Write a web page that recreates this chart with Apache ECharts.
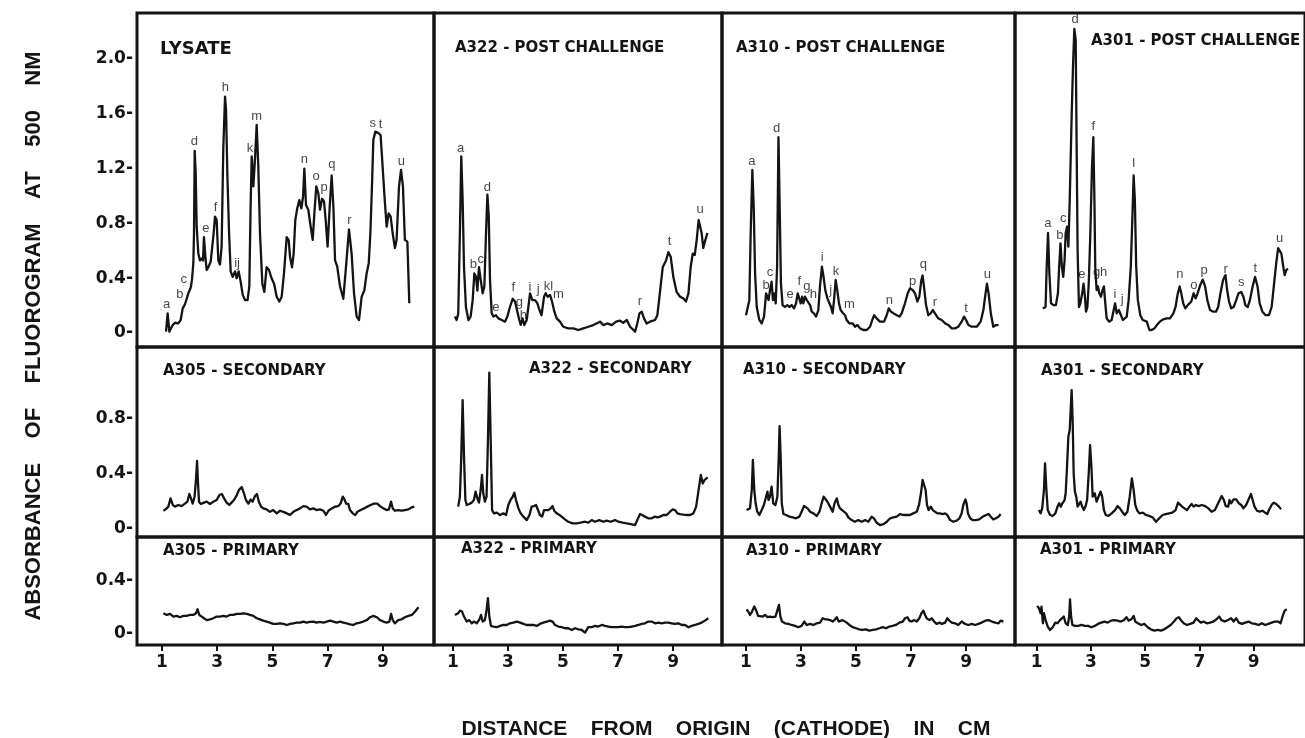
<!DOCTYPE html>
<html><head><meta charset="utf-8">
<script src="https://cdn.jsdelivr.net/npm/echarts@6/dist/echarts.min.js"></script>
<style>html,body{margin:0;padding:0;background:#fff}#c{width:1305px;height:738px}</style>
</head><body><div id="c"></div>
<script>
// ---------- tick labels ----------
const xTicks = [1, 3, 5, 7, 9];
const yTicksTop = [0, 0.4, 0.8, 1.2, 1.6, 2.0];
const yTicksMid = [0, 0.4, 0.8];
const yTicksBot = [0, 0.4];

// ---------- panel titles ----------
const panelTitles = [
  'LYSATE', 'A322 - POST CHALLENGE', 'A310 - POST CHALLENGE', 'A301 - POST CHALLENGE',
  'A305 - SECONDARY', 'A322 - SECONDARY', 'A310 - SECONDARY', 'A301 - SECONDARY',
  'A305 - PRIMARY', 'A322 - PRIMARY', 'A310 - PRIMARY', 'A301 - PRIMARY'
];
const yTitle = 'ABSORBANCE    OF    FLUOROGRAM    AT    500    NM';
const xTitle = 'DISTANCE    FROM    ORIGIN    (CATHODE)    IN    CM';

// ---------- traces [distance cm, absorbance] ----------
const lysate = [[1.145,0.01],[1.205,0.144],[1.266,0.01],[1.326,0.0],[1.386,0.058],[1.471,0.075],[1.592,0.07],[1.676,0.095],[1.749,0.18],[1.833,0.21],[1.894,0.20],[1.954,0.29],[2.04,0.33],[2.087,0.39],[2.135,0.51],[2.16,0.73],[2.184,1.33],[2.22,1.17],[2.256,0.78],[2.316,0.58],[2.377,0.53],[2.437,0.545],[2.486,0.53],[2.52,0.70],[2.57,0.56],[2.618,0.46],[2.679,0.48],[2.763,0.52],[2.824,0.52],[2.872,0.73],[2.92,0.85],[2.98,0.825],[3.041,0.53],[3.10,0.50],[3.16,0.63],[3.22,1.34],[3.283,1.725],[3.32,1.63],[3.367,1.165],[3.43,0.73],[3.488,0.45],[3.56,0.41],[3.645,0.45],[3.705,0.40],[3.778,0.45],[3.85,0.375],[3.923,0.28],[4.007,0.24],[4.10,0.24],[4.164,0.34],[4.21,0.92],[4.25,1.29],[4.31,1.07],[4.37,1.275],[4.43,1.52],[4.49,1.21],[4.55,0.73],[4.635,0.36],[4.708,0.30],[4.79,0.48],[4.877,0.46],[4.97,0.40],[5.06,0.36],[5.155,0.265],[5.25,0.23],[5.336,0.265],[5.42,0.435],[5.517,0.70],[5.59,0.68],[5.638,0.557],[5.71,0.48],[5.77,0.58],[5.83,0.825],[5.90,0.91],[5.976,0.97],[6.05,0.91],[6.11,0.995],[6.157,1.20],[6.217,0.934],[6.30,0.90],[6.387,0.776],[6.46,0.68],[6.52,0.873],[6.59,1.07],[6.664,1.02],[6.725,0.90],[6.80,0.98],[6.87,0.96],[6.93,0.825],[7.0,0.63],[7.075,0.92],[7.147,1.15],[7.21,0.92],[7.27,0.53],[7.35,0.484],[7.45,0.34],[7.57,0.25],[7.667,0.484],[7.775,0.757],[7.87,0.58],[7.957,0.29],[8.053,0.12],[8.138,0.095],[8.234,0.265],[8.33,0.31],[8.415,0.435],[8.49,0.51],[8.55,0.73],[8.61,1.09],[8.657,1.41],[8.73,1.47],[8.84,1.46],[8.92,1.445],[8.995,1.21],[9.07,0.97],[9.14,0.776],[9.21,0.873],[9.285,0.85],[9.357,0.73],[9.44,0.62],[9.50,0.68],[9.587,1.07],[9.66,1.19],[9.73,1.07],[9.80,0.68],[9.89,0.667],[9.95,0.655],[9.96,0.217]];

const a322Post = [[1.07,0.12],[1.13,0.095],[1.19,0.14],[1.25,0.73],[1.30,1.29],[1.35,0.97],[1.40,0.48],[1.47,0.19],[1.56,0.095],[1.64,0.12],[1.715,0.24],[1.776,0.435],[1.836,0.41],[1.885,0.31],[1.945,0.48],[2.006,0.39],[2.08,0.29],[2.14,0.34],[2.20,0.73],[2.25,1.01],[2.30,0.85],[2.345,0.39],[2.406,0.144],[2.467,0.12],[2.56,0.13],[2.65,0.107],[2.77,0.095],[2.89,0.083],[2.976,0.12],[3.07,0.19],[3.17,0.25],[3.255,0.23],[3.34,0.156],[3.41,0.095],[3.46,0.06],[3.53,0.107],[3.59,0.058],[3.68,0.095],[3.74,0.19],[3.80,0.29],[3.885,0.24],[3.98,0.24],[4.067,0.217],[4.14,0.17],[4.22,0.13],[4.31,0.265],[4.37,0.29],[4.44,0.265],[4.53,0.277],[4.60,0.23],[4.685,0.156],[4.77,0.107],[4.89,0.083],[5.01,0.046],[5.19,0.034],[5.375,0.034],[5.56,0.022],[5.74,0.034],[5.92,0.046],[6.10,0.058],[6.22,0.07],[6.345,0.083],[6.47,0.058],[6.61,0.07],[6.77,0.058],[6.93,0.083],[7.07,0.09],[7.19,0.075],[7.32,0.095],[7.44,0.046],[7.62,0.01],[7.70,0.07],[7.78,0.144],[7.86,0.156],[7.945,0.107],[8.04,0.07],[8.16,0.083],[8.345,0.095],[8.43,0.13],[8.53,0.31],[8.625,0.48],[8.745,0.53],[8.83,0.59],[8.915,0.557],[9.01,0.41],[9.13,0.30],[9.255,0.265],[9.376,0.253],[9.47,0.23],[9.56,0.29],[9.64,0.48],[9.715,0.58],[9.79,0.57],[9.86,0.68],[9.93,0.825],[9.98,0.837],[10.04,0.73],[10.10,0.62],[10.175,0.68],[10.25,0.73]];

const a310Post = [[1.0,0.13],[1.06,0.144],[1.12,0.24],[1.17,0.73],[1.23,1.19],[1.28,0.92],[1.33,0.435],[1.39,0.19],[1.485,0.095],[1.57,0.07],[1.655,0.12],[1.73,0.29],[1.775,0.265],[1.82,0.24],[1.87,0.31],[1.93,0.375],[1.98,0.24],[2.03,0.29],[2.08,0.217],[2.13,0.48],[2.18,1.43],[2.22,0.97],[2.27,0.36],[2.33,0.204],[2.42,0.19],[2.50,0.204],[2.575,0.19],[2.66,0.204],[2.745,0.18],[2.82,0.217],[2.88,0.29],[2.94,0.294],[2.99,0.217],[3.04,0.265],[3.085,0.217],[3.145,0.265],[3.21,0.24],[3.27,0.23],[3.33,0.204],[3.39,0.156],[3.47,0.144],[3.545,0.12],[3.63,0.168],[3.69,0.34],[3.76,0.484],[3.82,0.41],[3.885,0.31],[3.96,0.253],[4.03,0.24],[4.09,0.19],[4.15,0.144],[4.20,0.24],[4.26,0.387],[4.32,0.31],[4.38,0.217],[4.44,0.168],[4.515,0.148],[4.60,0.13],[4.66,0.095],[4.76,0.07],[4.88,0.07],[4.96,0.046],[5.05,0.058],[5.145,0.034],[5.27,0.022],[5.39,0.022],[5.51,0.046],[5.59,0.095],[5.66,0.13],[5.75,0.107],[5.87,0.083],[6.02,0.083],[6.115,0.13],[6.19,0.18],[6.27,0.156],[6.36,0.144],[6.48,0.13],[6.58,0.12],[6.66,0.144],[6.78,0.217],[6.88,0.29],[6.96,0.326],[7.06,0.314],[7.145,0.29],[7.23,0.23],[7.30,0.265],[7.375,0.387],[7.42,0.42],[7.47,0.34],[7.545,0.204],[7.63,0.13],[7.715,0.144],[7.79,0.168],[7.87,0.144],[7.99,0.107],[8.115,0.095],[8.24,0.07],[8.36,0.058],[8.48,0.034],[8.60,0.034],[8.72,0.046],[8.84,0.083],[8.93,0.12],[9.0,0.095],[9.085,0.058],[9.21,0.046],[9.39,0.046],[9.53,0.083],[9.63,0.168],[9.71,0.29],[9.76,0.36],[9.82,0.29],[9.90,0.144],[9.99,0.046],[10.09,0.058],[10.18,0.058]];

const a301Post = [[1.23,0.18],[1.33,0.19],[1.37,0.48],[1.42,0.73],[1.47,0.435],[1.53,0.217],[1.62,0.204],[1.71,0.204],[1.785,0.29],[1.83,0.484],[1.88,0.655],[1.93,0.484],[1.98,0.41],[2.03,0.53],[2.07,0.73],[2.12,0.776],[2.17,0.63],[2.22,0.97],[2.29,1.58],[2.34,1.944],[2.39,2.22],[2.44,2.14],[2.47,1.46],[2.51,0.606],[2.56,0.19],[2.61,0.217],[2.68,0.29],[2.73,0.36],[2.78,0.265],[2.82,0.156],[2.87,0.19],[2.92,0.36],[2.98,0.73],[3.04,1.21],[3.09,1.43],[3.13,0.97],[3.16,0.484],[3.21,0.314],[3.26,0.34],[3.31,0.29],[3.37,0.265],[3.43,0.314],[3.48,0.34],[3.52,0.24],[3.58,0.107],[3.67,0.083],[3.765,0.095],[3.84,0.168],[3.89,0.217],[3.95,0.144],[4.03,0.168],[4.10,0.168],[4.18,0.095],[4.25,0.083],[4.32,0.12],[4.39,0.24],[4.47,0.484],[4.53,0.85],[4.575,1.15],[4.62,0.97],[4.67,0.484],[4.73,0.24],[4.82,0.13],[4.91,0.095],[4.97,0.107],[5.06,0.083],[5.155,0.022],[5.24,0.022],[5.34,0.034],[5.43,0.058],[5.54,0.083],[5.66,0.10],[5.795,0.107],[5.915,0.107],[6.04,0.144],[6.12,0.19],[6.19,0.277],[6.27,0.34],[6.33,0.29],[6.40,0.217],[6.48,0.18],[6.57,0.204],[6.64,0.19],[6.70,0.23],[6.785,0.29],[6.86,0.253],[6.93,0.29],[7.03,0.35],[7.12,0.39],[7.21,0.34],[7.29,0.24],[7.39,0.168],[7.51,0.156],[7.61,0.156],[7.69,0.19],[7.775,0.29],[7.87,0.387],[7.96,0.423],[8.02,0.314],[8.09,0.23],[8.17,0.18],[8.26,0.19],[8.355,0.24],[8.44,0.29],[8.54,0.30],[8.62,0.265],[8.69,0.204],[8.78,0.19],[8.86,0.24],[8.96,0.34],[9.05,0.41],[9.14,0.34],[9.22,0.217],[9.32,0.156],[9.44,0.13],[9.56,0.13],[9.66,0.19],[9.74,0.34],[9.83,0.51],[9.90,0.62],[9.96,0.63],[10.02,0.58],[10.09,0.484],[10.14,0.423],[10.20,0.46],[10.26,0.47]];

const a305Sec = [[1.05,0.128],[1.13,0.138],[1.23,0.158],[1.31,0.218],[1.39,0.17],[1.47,0.158],[1.59,0.17],[1.71,0.162],[1.83,0.18],[1.92,0.194],[1.99,0.25],[2.05,0.218],[2.11,0.18],[2.18,0.23],[2.23,0.35],[2.27,0.49],[2.30,0.35],[2.34,0.194],[2.41,0.177],[2.52,0.187],[2.62,0.194],[2.74,0.177],[2.86,0.194],[2.98,0.206],[3.08,0.242],[3.17,0.25],[3.25,0.218],[3.34,0.187],[3.44,0.17],[3.52,0.187],[3.61,0.206],[3.71,0.242],[3.79,0.28],[3.89,0.30],[3.97,0.255],[4.04,0.206],[4.13,0.18],[4.21,0.21],[4.285,0.194],[4.37,0.235],[4.44,0.25],[4.51,0.194],[4.59,0.158],[4.67,0.145],[4.79,0.138],[4.91,0.12],[5.03,0.133],[5.155,0.109],[5.275,0.128],[5.40,0.12],[5.52,0.109],[5.64,0.097],[5.76,0.12],[5.88,0.133],[6.00,0.145],[6.12,0.162],[6.24,0.158],[6.36,0.138],[6.48,0.145],[6.60,0.133],[6.72,0.138],[6.85,0.128],[6.94,0.097],[7.03,0.128],[7.15,0.145],[7.27,0.158],[7.39,0.162],[7.47,0.18],[7.55,0.23],[7.61,0.21],[7.67,0.18],[7.75,0.177],[7.81,0.133],[7.91,0.109],[8.0,0.097],[8.08,0.12],[8.20,0.133],[8.32,0.145],[8.44,0.158],[8.56,0.17],[8.68,0.18],[8.80,0.18],[8.90,0.162],[9.02,0.145],[9.14,0.133],[9.22,0.138],[9.30,0.194],[9.36,0.145],[9.44,0.128],[9.56,0.133],[9.68,0.128],[9.80,0.133],[9.93,0.138],[10.05,0.153],[10.14,0.158]];

const a322Sec = [[1.19,0.158],[1.25,0.23],[1.30,0.52],[1.35,0.933],[1.40,0.52],[1.45,0.206],[1.50,0.17],[1.59,0.177],[1.68,0.187],[1.76,0.206],[1.82,0.267],[1.885,0.218],[1.945,0.187],[2.006,0.279],[2.055,0.388],[2.10,0.255],[2.16,0.194],[2.22,0.23],[2.27,0.642],[2.32,1.132],[2.37,0.642],[2.42,0.133],[2.49,0.109],[2.59,0.114],[2.71,0.097],[2.83,0.109],[2.93,0.097],[3.01,0.17],[3.10,0.21],[3.17,0.23],[3.23,0.26],[3.29,0.206],[3.38,0.145],[3.46,0.109],[3.56,0.085],[3.68,0.06],[3.78,0.097],[3.86,0.158],[3.945,0.162],[4.02,0.17],[4.09,0.158],[4.16,0.097],[4.24,0.085],[4.31,0.133],[4.38,0.145],[4.47,0.133],[4.55,0.145],[4.62,0.162],[4.68,0.128],[4.77,0.109],[4.87,0.097],[4.95,0.085],[5.07,0.065],[5.19,0.048],[5.35,0.036],[5.50,0.036],[5.64,0.041],[5.80,0.048],[5.92,0.041],[6.04,0.06],[6.16,0.048],[6.32,0.06],[6.47,0.048],[6.59,0.056],[6.73,0.048],[6.89,0.06],[7.01,0.048],[7.17,0.041],[7.32,0.036],[7.46,0.031],[7.62,0.024],[7.70,0.06],[7.80,0.104],[7.88,0.097],[7.98,0.085],[8.10,0.073],[8.22,0.073],[8.345,0.085],[8.43,0.08],[8.53,0.085],[8.65,0.097],[8.77,0.097],[8.89,0.121],[8.99,0.138],[9.07,0.133],[9.16,0.109],[9.25,0.104],[9.375,0.099],[9.50,0.097],[9.62,0.097],[9.74,0.109],[9.84,0.158],[9.92,0.267],[10.01,0.388],[10.08,0.327],[10.14,0.35],[10.20,0.34],[10.26,0.37]];

const a310Sec = [[1.02,0.133],[1.08,0.121],[1.145,0.145],[1.21,0.279],[1.25,0.497],[1.30,0.279],[1.35,0.182],[1.41,0.121],[1.485,0.097],[1.57,0.133],[1.65,0.17],[1.73,0.23],[1.78,0.267],[1.82,0.206],[1.87,0.23],[1.93,0.303],[1.99,0.182],[2.07,0.17],[2.14,0.23],[2.19,0.52],[2.22,0.744],[2.26,0.52],[2.30,0.182],[2.36,0.104],[2.455,0.097],[2.58,0.085],[2.70,0.08],[2.82,0.073],[2.94,0.085],[3.02,0.121],[3.11,0.162],[3.17,0.17],[3.24,0.145],[3.33,0.121],[3.45,0.109],[3.57,0.09],[3.67,0.121],[3.75,0.182],[3.82,0.23],[3.90,0.21],[3.96,0.194],[4.03,0.206],[4.09,0.145],[4.15,0.121],[4.22,0.182],[4.30,0.218],[4.36,0.17],[4.42,0.145],[4.49,0.158],[4.56,0.121],[4.64,0.109],[4.72,0.08],[4.84,0.06],[4.96,0.048],[5.08,0.06],[5.21,0.048],[5.33,0.06],[5.45,0.048],[5.57,0.085],[5.65,0.073],[5.75,0.041],[5.87,0.024],[6.0,0.031],[6.12,0.048],[6.24,0.073],[6.36,0.08],[6.48,0.085],[6.60,0.104],[6.72,0.097],[6.84,0.097],[6.96,0.097],[7.08,0.109],[7.21,0.121],[7.29,0.17],[7.36,0.255],[7.42,0.352],[7.48,0.364],[7.53,0.279],[7.58,0.17],[7.64,0.133],[7.72,0.158],[7.79,0.133],[7.87,0.121],[7.96,0.109],[8.05,0.109],[8.15,0.104],[8.24,0.109],[8.32,0.097],[8.42,0.06],[8.54,0.048],[8.66,0.056],[8.76,0.073],[8.84,0.109],[8.90,0.17],[8.98,0.21],[9.02,0.182],[9.07,0.109],[9.15,0.073],[9.24,0.06],[9.36,0.06],[9.48,0.065],[9.61,0.085],[9.73,0.097],[9.82,0.104],[9.90,0.085],[9.99,0.065],[10.09,0.073],[10.18,0.085],[10.26,0.104]];

const a301Sec = [[1.085,0.133],[1.145,0.109],[1.205,0.145],[1.27,0.279],[1.31,0.473],[1.36,0.279],[1.41,0.133],[1.495,0.097],[1.59,0.09],[1.69,0.109],[1.77,0.158],[1.83,0.182],[1.89,0.158],[1.95,0.182],[2.03,0.206],[2.07,0.255],[2.12,0.448],[2.17,0.667],[2.22,0.715],[2.26,0.885],[2.29,1.006],[2.33,0.764],[2.365,0.40],[2.41,0.267],[2.46,0.23],[2.51,0.158],[2.56,0.145],[2.62,0.194],[2.68,0.158],[2.74,0.133],[2.80,0.158],[2.86,0.206],[2.92,0.40],[2.97,0.606],[3.02,0.448],[3.065,0.23],[3.14,0.255],[3.21,0.194],[3.28,0.23],[3.355,0.267],[3.415,0.23],[3.48,0.133],[3.55,0.097],[3.645,0.09],[3.765,0.109],[3.89,0.133],[3.98,0.162],[4.07,0.145],[4.15,0.121],[4.25,0.097],[4.345,0.121],[4.43,0.23],[4.51,0.364],[4.575,0.279],[4.635,0.17],[4.71,0.128],[4.79,0.109],[4.91,0.114],[5.03,0.097],[5.155,0.09],[5.275,0.08],[5.40,0.048],[5.52,0.073],[5.64,0.097],[5.76,0.104],[5.88,0.109],[6.0,0.114],[6.12,0.133],[6.21,0.187],[6.28,0.182],[6.36,0.158],[6.45,0.145],[6.54,0.133],[6.63,0.158],[6.71,0.177],[6.785,0.158],[6.87,0.17],[6.97,0.162],[7.09,0.17],[7.21,0.162],[7.33,0.145],[7.45,0.121],[7.57,0.133],[7.69,0.182],[7.82,0.235],[7.90,0.206],[7.97,0.162],[8.06,0.158],[8.11,0.206],[8.17,0.182],[8.26,0.21],[8.355,0.21],[8.45,0.182],[8.54,0.17],[8.62,0.145],[8.72,0.17],[8.81,0.21],[8.90,0.25],[8.96,0.206],[9.03,0.158],[9.12,0.128],[9.22,0.121],[9.32,0.128],[9.42,0.114],[9.50,0.104],[9.56,0.133],[9.66,0.17],[9.74,0.187],[9.83,0.177],[9.93,0.158],[10.01,0.138]];

const a305Pri = [[1.05,0.152],[1.17,0.139],[1.29,0.147],[1.41,0.127],[1.53,0.132],[1.65,0.122],[1.77,0.132],[1.89,0.132],[2.01,0.139],[2.135,0.139],[2.23,0.152],[2.29,0.182],[2.35,0.139],[2.44,0.127],[2.52,0.114],[2.62,0.10],[2.74,0.106],[2.86,0.114],[2.98,0.127],[3.10,0.127],[3.22,0.132],[3.34,0.127],[3.46,0.139],[3.58,0.139],[3.71,0.147],[3.83,0.147],[3.95,0.152],[4.07,0.147],[4.19,0.139],[4.31,0.132],[4.43,0.114],[4.55,0.106],[4.67,0.096],[4.79,0.089],[4.91,0.081],[5.03,0.071],[5.155,0.071],[5.275,0.076],[5.40,0.071],[5.52,0.063],[5.64,0.071],[5.76,0.076],[5.88,0.081],[6.0,0.081],[6.12,0.089],[6.24,0.081],[6.36,0.086],[6.48,0.089],[6.60,0.081],[6.72,0.086],[6.85,0.081],[6.97,0.089],[7.09,0.096],[7.21,0.089],[7.33,0.081],[7.45,0.089],[7.57,0.081],[7.69,0.076],[7.81,0.068],[7.93,0.063],[8.05,0.076],[8.17,0.081],[8.29,0.089],[8.42,0.10],[8.54,0.122],[8.66,0.132],[8.78,0.122],[8.90,0.10],[9.02,0.089],[9.14,0.081],[9.24,0.089],[9.30,0.147],[9.36,0.10],[9.44,0.076],[9.56,0.10],[9.68,0.106],[9.80,0.122],[9.93,0.132],[10.05,0.139],[10.17,0.165],[10.29,0.197]];

const a322Pri = [[1.07,0.139],[1.13,0.127],[1.19,0.152],[1.25,0.172],[1.33,0.165],[1.40,0.127],[1.50,0.089],[1.59,0.10],[1.68,0.076],[1.76,0.089],[1.86,0.076],[1.96,0.106],[2.02,0.139],[2.08,0.089],[2.16,0.10],[2.22,0.177],[2.27,0.266],[2.32,0.127],[2.38,0.056],[2.47,0.051],[2.59,0.046],[2.71,0.056],[2.83,0.063],[2.95,0.063],[3.07,0.076],[3.19,0.081],[3.32,0.089],[3.44,0.081],[3.56,0.071],[3.68,0.063],[3.80,0.063],[3.92,0.063],[4.04,0.056],[4.16,0.071],[4.28,0.081],[4.41,0.089],[4.53,0.096],[4.62,0.089],[4.71,0.063],[4.83,0.051],[4.95,0.046],[5.07,0.038],[5.19,0.038],[5.32,0.025],[5.44,0.038],[5.56,0.03],[5.68,0.025],[5.80,0.005],[5.92,0.046],[6.04,0.046],[6.16,0.056],[6.28,0.051],[6.41,0.063],[6.53,0.056],[6.65,0.051],[6.77,0.046],[6.89,0.046],[7.01,0.046],[7.13,0.051],[7.25,0.046],[7.38,0.046],[7.50,0.051],[7.62,0.056],[7.74,0.063],[7.86,0.071],[7.98,0.076],[8.10,0.089],[8.22,0.089],[8.345,0.076],[8.47,0.081],[8.59,0.076],[8.71,0.081],[8.83,0.081],[8.95,0.076],[9.07,0.071],[9.19,0.076],[9.32,0.063],[9.44,0.063],[9.56,0.046],[9.68,0.056],[9.80,0.063],[9.92,0.071],[10.04,0.081],[10.16,0.096],[10.28,0.114]];

const a310Pri = [[1.02,0.182],[1.08,0.165],[1.145,0.139],[1.22,0.165],[1.30,0.203],[1.36,0.177],[1.44,0.132],[1.51,0.139],[1.61,0.127],[1.69,0.139],[1.78,0.122],[1.87,0.127],[1.97,0.122],[2.07,0.127],[2.14,0.139],[2.20,0.215],[2.25,0.127],[2.31,0.089],[2.42,0.076],[2.54,0.071],[2.66,0.063],[2.78,0.056],[2.90,0.046],[3.02,0.056],[3.12,0.089],[3.21,0.063],[3.33,0.071],[3.45,0.063],[3.57,0.076],[3.69,0.081],[3.79,0.114],[3.87,0.106],[3.96,0.106],[4.05,0.10],[4.15,0.089],[4.24,0.106],[4.30,0.122],[4.37,0.089],[4.44,0.081],[4.515,0.10],[4.58,0.114],[4.66,0.081],[4.76,0.063],[4.88,0.046],[5.00,0.038],[5.12,0.03],[5.24,0.025],[5.36,0.03],[5.48,0.02],[5.61,0.025],[5.73,0.03],[5.85,0.038],[5.97,0.046],[6.09,0.038],[6.21,0.051],[6.33,0.056],[6.45,0.063],[6.58,0.081],[6.70,0.089],[6.78,0.114],[6.87,0.122],[6.94,0.096],[7.02,0.089],[7.11,0.10],[7.21,0.089],[7.30,0.114],[7.38,0.152],[7.45,0.172],[7.51,0.139],[7.57,0.114],[7.67,0.10],[7.75,0.114],[7.84,0.089],[7.93,0.071],[8.03,0.081],[8.12,0.071],[8.24,0.081],[8.32,0.114],[8.39,0.096],[8.48,0.081],[8.60,0.076],[8.72,0.063],[8.84,0.089],[8.96,0.071],[9.08,0.063],[9.21,0.071],[9.33,0.063],[9.45,0.071],[9.57,0.081],[9.70,0.096],[9.82,0.10],[9.94,0.089],[10.06,0.081],[10.18,0.076],[10.26,0.096],[10.36,0.089]];

const a301Pri = [[1.02,0.208],[1.085,0.19],[1.145,0.152],[1.18,0.203],[1.23,0.076],[1.27,0.152],[1.33,0.10],[1.41,0.051],[1.495,0.025],[1.59,0.046],[1.69,0.081],[1.77,0.076],[1.86,0.10],[1.93,0.106],[2.00,0.127],[2.07,0.076],[2.15,0.063],[2.20,0.127],[2.23,0.258],[2.27,0.127],[2.32,0.063],[2.41,0.056],[2.53,0.056],[2.655,0.063],[2.775,0.056],[2.90,0.056],[3.02,0.046],[3.14,0.056],[3.26,0.071],[3.38,0.081],[3.50,0.089],[3.62,0.081],[3.74,0.096],[3.86,0.10],[3.98,0.096],[4.10,0.089],[4.22,0.10],[4.31,0.122],[4.39,0.096],[4.49,0.106],[4.575,0.132],[4.635,0.089],[4.73,0.076],[4.85,0.063],[4.97,0.071],[5.09,0.046],[5.21,0.03],[5.34,0.02],[5.46,0.025],[5.58,0.02],[5.70,0.03],[5.82,0.046],[5.94,0.063],[6.06,0.089],[6.16,0.114],[6.24,0.122],[6.33,0.096],[6.42,0.076],[6.54,0.063],[6.66,0.071],[6.785,0.081],[6.88,0.114],[6.97,0.096],[7.05,0.081],[7.15,0.089],[7.27,0.076],[7.39,0.081],[7.51,0.089],[7.63,0.106],[7.73,0.127],[7.81,0.10],[7.93,0.089],[8.05,0.10],[8.17,0.114],[8.26,0.089],[8.355,0.114],[8.45,0.081],[8.57,0.071],[8.69,0.081],[8.81,0.089],[8.93,0.076],[9.06,0.071],[9.18,0.063],[9.30,0.076],[9.42,0.063],[9.54,0.071],[9.66,0.081],[9.78,0.089],[9.90,0.089],[9.99,0.076],[10.07,0.132],[10.14,0.172],[10.22,0.182]];

// ---------- peak letters [letter, cm, absorbance] ----------
const lysatePeaks = [['a',1.17,0.21],['b',1.65,0.28],['c',1.79,0.39],['d',2.17,1.40],['e',2.59,0.76],['f',2.94,0.92],['h',3.30,1.79],['ij',3.72,0.51],['k',4.19,1.35],['m',4.43,1.58],['n',6.16,1.27],['o',6.58,1.14],['p',6.87,1.06],['q',7.15,1.23],['r',7.79,0.825],['s',8.64,1.53],['t',8.92,1.525],['u',9.67,1.25]];
const a322Peaks = [['a',1.28,1.35],['b',1.74,0.50],['c',2.01,0.54],['d',2.25,1.06],['e',2.56,0.19],['f',3.19,0.33],['g',3.41,0.22],['h',3.56,0.13],['i',3.80,0.33],['j',4.10,0.32],['kl',4.47,0.34],['m',4.83,0.28],['r',7.80,0.23],['t',8.87,0.67],['u',9.98,0.90]];
const a310Peaks = [['a',1.21,1.25],['b',1.73,0.35],['c',1.87,0.44],['d',2.11,1.49],['e',2.60,0.28],['f',2.94,0.38],['g',3.21,0.34],['h',3.45,0.28],['i',3.77,0.55],['j',4.08,0.31],['k',4.27,0.45],['m',4.76,0.21],['n',6.21,0.24],['p',7.06,0.38],['q',7.45,0.50],['r',7.87,0.22],['t',9.0,0.18],['u',9.775,0.43]];
const a301Peaks = [['a',1.41,0.80],['b',1.86,0.715],['c',1.98,0.84],['d',2.42,2.29],['e',2.67,0.43],['f',3.09,1.51],['gh',3.34,0.44],['i',3.89,0.28],['j',4.15,0.245],['l',4.575,1.24],['n',6.28,0.43],['o',6.79,0.35],['p',7.17,0.46],['r',7.97,0.465],['s',8.54,0.37],['t',9.06,0.47],['u',9.95,0.69]];

// ---------- assembly ----------
const traces = [lysate, a322Post, a310Post, a301Post, a305Sec, a322Sec, a310Sec, a301Sec, a305Pri, a322Pri, a310Pri, a301Pri];
const peaks = [lysatePeaks, a322Peaks, a310Peaks, a301Peaks];

const INK = '#141414';
const BOLD = '"DejaVu Sans", sans-serif';
const cols = [
  {left: 137, width: 297, min: 0.094, max: 10.855},
  {left: 434, width: 288, min: 0.309, max: 10.78},
  {left: 722, width: 293, min: 0.127, max: 10.78},
  {left: 1015, width: 295, min: 0.203, max: 10.89}
];
const rows = [
  {top: 13, height: 334, min: -0.102, max: 2.336, ticks: yTicksTop},
  {top: 347, height: 190, min: -0.063, max: 1.319, ticks: yTicksMid},
  {top: 537, height: 108, min: -0.089, max: 0.731, ticks: yTicksBot}
];
const titlePos = [
  [160, 40, 18], [455, 41, 15], [736, 41, 15], [1091, 34, 15],
  [163, 364, 15], [529, 362, 15], [743, 363, 15], [1041, 364, 15],
  [163, 544, 15], [461, 542, 15], [746, 544, 15], [1040, 543, 15]
];

const grid = [], xAxis = [], yAxis = [], series = [], title = [];
for (let r = 0; r < 3; r++) {
  for (let c = 0; c < 4; c++) {
    const i = r * 4 + c;
    grid.push({left: cols[c].left, top: rows[r].top, width: cols[c].width, height: rows[r].height,
      show: true, borderColor: INK, borderWidth: 3, backgroundColor: 'transparent'});
    xAxis.push({type: 'value', gridIndex: i, min: cols[c].min, max: cols[c].max, position: 'bottom',
      axisLine: {show: false, onZero: false}, splitLine: {show: false},
      axisTick: {show: r === 2, customValues: xTicks, length: 6, inside: false, lineStyle: {color: INK, width: 2}},
      axisLabel: {show: r === 2, customValues: xTicks, margin: 9, color: INK,
        fontFamily: BOLD, fontWeight: 'bold', fontSize: 17}});
    yAxis.push({type: 'value', gridIndex: i, min: rows[r].min, max: rows[r].max,
      axisLine: {show: false, onZero: false}, splitLine: {show: false}, axisTick: {show: false},
      axisLabel: {show: c === 0, customValues: rows[r].ticks, margin: 4, color: INK,
        fontFamily: BOLD, fontWeight: 'bold', fontSize: 17,
        formatter: v => (Math.abs(v) < 1e-9 ? '0' : v.toFixed(1)) + '-'}});
    series.push({type: 'line', xAxisIndex: i, yAxisIndex: i, data: traces[i],
      showSymbol: false, symbol: 'none', smooth: false, silent: true, animation: false,
      lineStyle: {color: INK, width: 2.3, join: 'round'}});
    if (r === 0) {
      series.push({type: 'scatter', xAxisIndex: i, yAxisIndex: i, silent: true, animation: false,
        symbolSize: 1, itemStyle: {color: 'rgba(0,0,0,0)'},
        data: peaks[c].map(p => ({name: p[0], value: [p[1], p[2]]})),
        label: {show: true, position: 'inside', formatter: '{b}', color: INK,
          fontFamily: '"Liberation Sans", Arial, sans-serif', fontSize: 13}});
    }
    const tp = titlePos[i];
    title.push({text: panelTitles[i], left: tp[0], top: tp[1], padding: 0,
      textStyle: {fontFamily: BOLD, fontWeight: 'bold', fontSize: tp[2], color: INK}});
  }
}

const chart = echarts.init(document.getElementById('c'), null, {renderer: 'canvas'});
chart.setOption({
  backgroundColor: '#fff',
  animation: false,
  title, grid, xAxis, yAxis, series,
  graphic: [
    {type: 'text', x: 34, y: 336, rotation: Math.PI / 2,
      style: {text: yTitle, fill: INK, font: 'bold 22px "Liberation Sans", Arial, sans-serif',
        align: 'center', verticalAlign: 'middle'}},
    {type: 'text', x: 726, y: 729,
      style: {text: xTitle, fill: INK, font: 'bold 21px "Liberation Sans", Arial, sans-serif',
        align: 'center', verticalAlign: 'middle'}}
  ]
});
</script></body></html>
